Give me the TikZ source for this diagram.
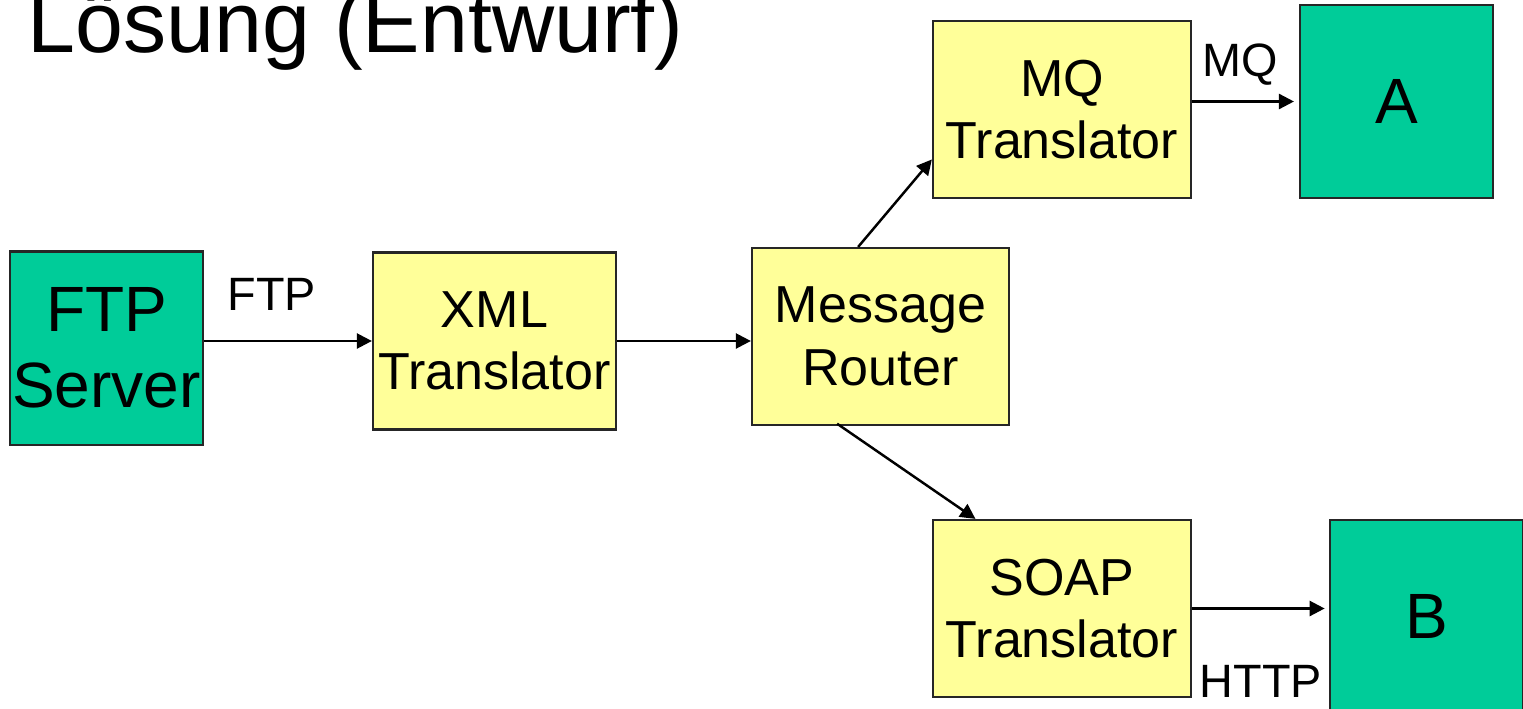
\documentclass[tikz,border=0pt]{standalone}
\usepackage{fontspec}
\setmainfont{Liberation Sans}
\usetikzlibrary{arrows.meta}
\definecolor{sysgreen}{HTML}{00CC99}
\definecolor{transyellow}{HTML}{FFFF99}
\tikzset{
	sysbox/.style={draw=black!85,line width=0.6pt,fill=sysgreen,minimum width=1.93cm,minimum height=1.93cm,inner sep=0pt,align=center,font=\fontsize{18.2}{21.6}\selectfont},
	transbox/.style={draw=black!85,line width=0.6pt,fill=transyellow,minimum height=1.77cm,inner sep=0pt,align=center,font=\fontsize{14.8}{17.8}\selectfont},
	flow/.style={line width=0.7pt,-{Triangle[length=4.3pt,width=4.3pt]}},
	chan/.style={inner sep=0pt,anchor=base,font=\fontsize{13.3}{16}\selectfont}
}
\begin{document}
\begin{tikzpicture}[x=0.01cm,y=-0.01cm]
		\clip (0,0) rectangle (1523,709);
		\node[anchor=base west,inner sep=0pt,font=\fontsize{24.5}{29}\selectfont] (title) at (27,53) {Lösung (Entwurf)};
		\node[sysbox] (ftp) at (106.5,348) {FTP\\Server};
		\node[transbox,minimum width=2.43cm] (xml) at (494.5,341) {XML\\Translator};
		\node[transbox,minimum width=2.57cm] (router) at (880.5,336.5) {Message\\Router};
		\node[transbox,minimum width=2.58cm] (mq) at (1062,109.5) {MQ\\Translator};
		\node[transbox,minimum width=2.58cm] (soap) at (1062,608.5) {SOAP\\Translator};
		\node[sysbox] (a) at (1396.5,101.5) {A};
		\node[sysbox] (b) at (1426.5,616.5) {B};
		\draw[flow] (ftp.east |- xml.west) to (xml.west);
		\draw[flow] (xml.east) to (router.west |- xml.east);
		\draw[flow] (router.104) to (mq.201);
		\draw[flow,shorten <=-1.2pt] (router.246) to (soap.134);
		\draw[flow,shorten >=1.4pt] (mq.east |- a.west) to (a.west);
		\draw[flow,shorten >=1.2pt] (soap.east) to (b.west |- soap.east);
		\node[chan] (lftp) at (272,310) {FTP};
		\node[chan] (lmq) at (1240.5,77) {MQ};
		\node[chan] (lhttp) at (1261,697) {HTTP};
	\end{tikzpicture}
\end{document}
